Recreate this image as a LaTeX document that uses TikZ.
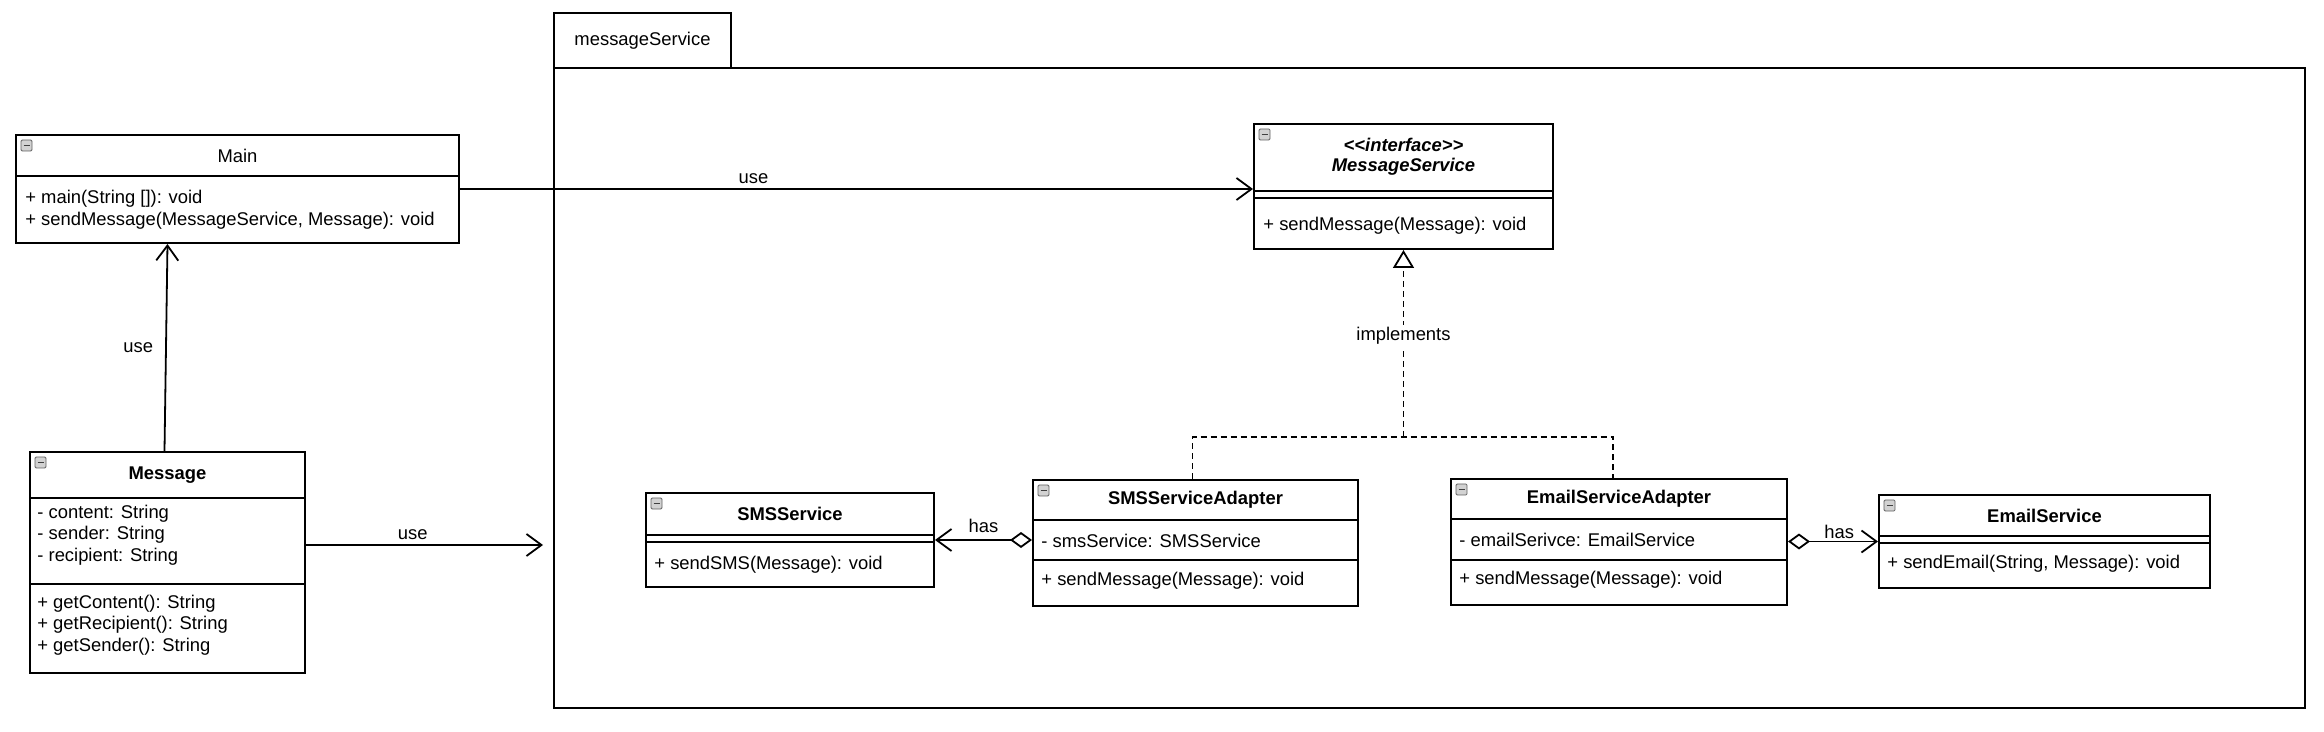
\documentclass[tikz,border=0pt]{standalone}
\usepackage{fontspec}
\setmainfont{Liberation Sans}
\usetikzlibrary{arrows.meta,fit,calc}
\tikzset{
  minusicon/.pic={
    \draw[gray!75!black, fill=gray!35, line width=0.4pt, rounded corners=0.6pt] (0,0) rectangle (11,11);
    \draw[black!75, line width=0.9pt] (2.5,5.5) -- (8.5,5.5);
  },
  cls/.style={draw, line width=1pt, inner sep=0pt, fill=white},
  ttl/.style={font=\fontsize{9.2}{10.8}\selectfont\bfseries},
  txt/.style={anchor=west, inner sep=0pt, align=left},
  divider/.style={line width=1pt},
  conn/.style={line width=0.9pt},
  openarrow/.style={-{Straight Barb[length=7.5pt,width=11pt,line width=0.9pt]}},
  dashedline/.style={line width=0.9pt, dash pattern=on 3pt off 2pt},
  lbl/.style={inner sep=1pt}
}
\begin{document}
\begin{tikzpicture}[x=0.5pt,y=-0.5pt,
  every node/.append style={font=\fontsize{9.2}{10.75}\selectfont}]
\useasboundingbox (0,0) rectangle (2324,732);

% ---------- package ----------
\node[cls, fit={(554,13)(731,68)}] (pkgtab) {};
\node[inner sep=0pt] (pkgname) at (pkgtab.center) {messageService};
\node[cls, fit={(554,68)(2305,708)}] (pkg) {};

% ---------- Main ----------
\node[cls, fit={(16,135)(459,243)}] (main) {};
\draw[divider] (main.west |- 0,176) -- (main.east |- 0,176);
\pic at ([shift={(6,6)}]main.north west) {minusicon};
\node[inner sep=0pt] (mainttl) at (237.5,156) {Main};
\node[txt] (mainops) at (25,209.5) {+ main(String []): void\\+ sendMessage(MessageService, Message): void};

% ---------- Message ----------
\node[cls, fit={(30,452)(305,673)}] (msg) {};
\draw[divider] (msg.west |- 0,498) -- (msg.east |- 0,498);
\draw[divider] (msg.west |- 0,584) -- (msg.east |- 0,584);
\pic at ([shift={(6,6)}]msg.north west) {minusicon};
\node[ttl, inner sep=0pt] (msgttl) at (167.5,475) {Message};
\node[txt] (msgattr) at (37,535) {- content: String\\- sender: String\\- recipient: String};
\node[txt] (msgops) at (37,625) {+ getContent(): String\\+ getRecipient(): String\\+ getSender(): String};

% ---------- MessageService interface ----------
\node[cls, fit={(1254,124)(1553,249)}] (iface) {};
\draw[divider] (iface.west |- 0,191) -- (iface.east |- 0,191);
\draw[divider] (iface.west |- 0,198) -- (iface.east |- 0,198);
\pic at ([shift={(6,6)}]iface.north west) {minusicon};
\node[ttl, inner sep=0pt, align=center, font=\fontsize{9.2}{10.2}\selectfont\bfseries\itshape] (ifacettl) at (1403.5,157) {<{}<interface>{}>\\MessageService};
\node[txt] (ifaceops) at (1263,226) {+ sendMessage(Message): void};

% ---------- SMSService ----------
\node[cls, fit={(646,493)(934,587)}] (smssvc) {};
\draw[divider] (smssvc.west |- 0,535) -- (smssvc.east |- 0,535);
\draw[divider] (smssvc.west |- 0,542) -- (smssvc.east |- 0,542);
\pic at ([shift={(6,6)}]smssvc.north west) {minusicon};
\node[ttl, inner sep=0pt] (smssvcttl) at (790,514) {SMSService};
\node[txt] (smssvcops) at (654,565) {+ sendSMS(Message): void};

% ---------- SMSServiceAdapter ----------
\node[cls, fit={(1033,480)(1358,606)}] (smsad) {};
\draw[divider] (smsad.west |- 0,520) -- (smsad.east |- 0,520);
\draw[divider] (smsad.west |- 0,560) -- (smsad.east |- 0,560);
\pic at ([shift={(6,6)}]smsad.north west) {minusicon};
\node[ttl, inner sep=0pt] (smsadttl) at (1195.5,500) {SMSServiceAdapter};
\node[txt] (smsadattr) at (1041,541) {- smsService: SMSService};
\node[txt] (smsadops) at (1041,581) {+ sendMessage(Message): void};

% ---------- EmailServiceAdapter ----------
\node[cls, fit={(1451,479)(1787,605)}] (emad) {};
\draw[divider] (emad.west |- 0,519) -- (emad.east |- 0,519);
\draw[divider] (emad.west |- 0,560) -- (emad.east |- 0,560);
\pic at ([shift={(6,6)}]emad.north west) {minusicon};
\node[ttl, inner sep=0pt] (emadttl) at (1619,499) {EmailServiceAdapter};
\node[txt] (emadattr) at (1459,540) {- emailSerivce: EmailService};
\node[txt] (emadops) at (1459,580) {+ sendMessage(Message): void};

% ---------- EmailService ----------
\node[cls, fit={(1879,495)(2210,588)}] (emsvc) {};
\draw[divider] (emsvc.west |- 0,536) -- (emsvc.east |- 0,536);
\draw[divider] (emsvc.west |- 0,543) -- (emsvc.east |- 0,543);
\pic at ([shift={(6,6)}]emsvc.north west) {minusicon};
\node[ttl, inner sep=0pt] (emsvcttl) at (2044.5,516) {EmailService};
\node[txt] (emsvcops) at (1887,564) {+ sendEmail(String, Message): void};

% ---------- connectors ----------
\draw[conn, openarrow] (main.east) -- (main.east -| iface.west)
  node[pos=0.37, above=1pt, lbl] (use1) {use};

\draw[conn, openarrow] ([xshift=-1.5pt]msg.north) -- (main.south -| msg.north)
  node[midway, left=5pt, lbl] (use2) {use};

\coordinate (pkgin) at (543,545);
\draw[conn, openarrow] (msg.east |- pkgin) -- (pkgin)
  node[pos=0.45, above=1pt, lbl] (use3) {use};

\coordinate (junc) at (iface.south |- 0,437);
\draw[dashedline] ([xshift=-1.5pt]smsad.north) |- (junc) -| ([xshift=-3pt]emad.north);
\draw[dashedline, -{Triangle[open, length=9pt, width=10.5pt, line width=0.9pt, fill=white]}] (junc) -- (iface.south)
  node[pos=0.54, fill=white, lbl] (impl) {implements};

\draw[conn, {Diamond[length=11pt, width=8pt, fill=white, line width=0.9pt]}-{Straight Barb[length=7.5pt,width=11pt,line width=0.9pt]}]
  (smsad.west |- smssvc.east) -- (smssvc.east)
  node[midway, above=2pt, lbl] (has1) {has};

\draw[conn, {Diamond[length=11pt, width=8pt, fill=white, line width=0.9pt]}-{Straight Barb[length=7.5pt,width=11pt,line width=0.9pt]}]
  (emad.east |- emsvc.west) -- (emsvc.west)
  node[pos=0.57, above=0pt, lbl] (has2) {has};
\end{tikzpicture}
\end{document}
